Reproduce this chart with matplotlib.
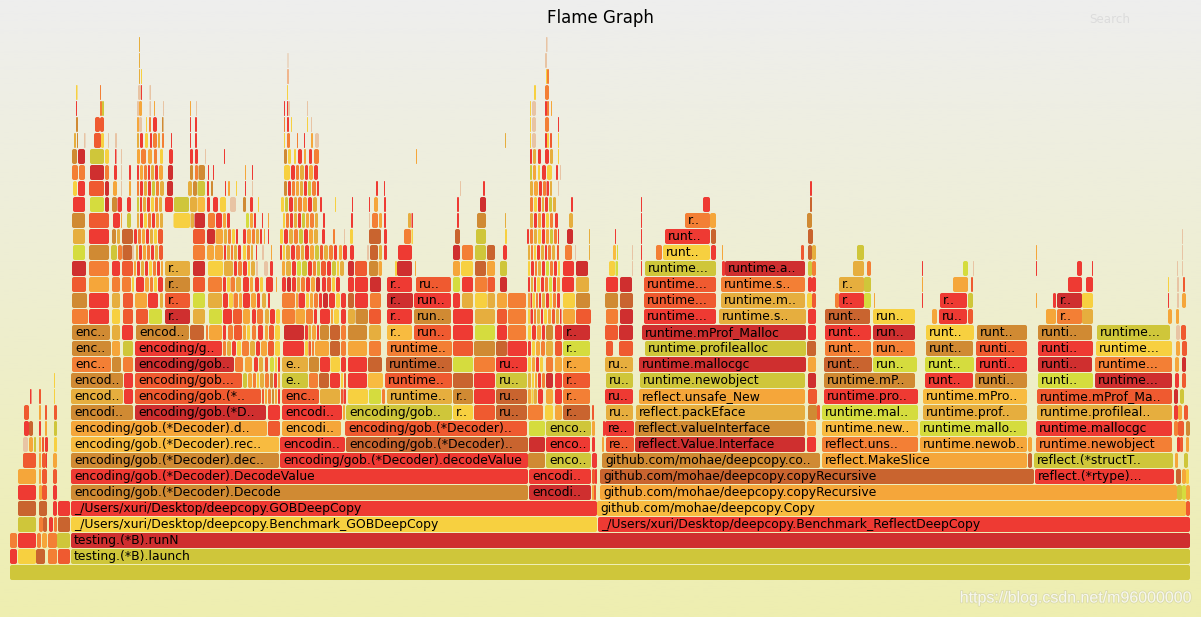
import matplotlib
matplotlib.use("Agg")
import matplotlib.pyplot as plt
import matplotlib.patheffects as pe
from matplotlib.patches import FancyBboxPatch
import numpy as np

palette = {'r': '#ee3a33', 'd': '#cf2f2f', 't': '#ef5a30', 'o': '#f37f35', 'a': '#f5a63a',
           'y': '#f7d040', 'l': '#d5dc3e', 'g': '#cfc63a', 'm': '#d08a33', 'b': '#c9642f',
           'k': '#e6ae3e', 'h': '#f8bb40', 'p': '#e8c4a4'}

# (row, first sample, last sample, colour key, name)
stack_frames = [
    (0, 10, 1190, 'g', ""), (1, 71, 1190, 'g', "testing.(*B).launch"), (2, 71, 1190, 'd', "testing.(*B).runN"),
    (3, 71, 597, 'y', "_/Users/xuri/Desktop/deepcopy.Benchmark_GOBDeepCopy"),
    (3, 598, 1190, 'r', "_/Users/xuri/Desktop/deepcopy.Benchmark_ReflectDeepCopy"),
    (4, 71, 597, 'r', "_/Users/xuri/Desktop/deepcopy.GOBDeepCopy"),
    (4, 597, 1186, 'h', "github.com/mohae/deepcopy.Copy"),
    (5, 600, 1177, 'a', "github.com/mohae/deepcopy.copyRecursive"),
    (6, 600, 1034, 'b', "github.com/mohae/deepcopy.copyRecursive"),
    (6, 1035, 1174, 'r', "reflect.(*rtype)..."),
    (7, 602, 820, 'm', "github.com/mohae/deepcopy.co.."), (7, 822, 1027, 'a', "reflect.MakeSlice"),
    (7, 1034, 1173, 'g', "reflect.(*structT.."),
]
gob_frames = [
    (5, 71, 528, 'm', "encoding/gob.(*Decoder).Decode"), (5, 529, 591, 'd', "encodi.."),
    (6, 71, 528, 'r', "encoding/gob.(*Decoder).DecodeValue"), (6, 529, 591, 'r', "encodi.."),
    (7, 71, 279, 'm', "encoding/gob.(*Decoder).dec.."), (7, 280, 528, 'r', "encoding/gob.(*Decoder).decodeValue"),
    (7, 546, 591, 'g', "enco.."),
    (8, 71, 279, 'h', "encoding/gob.(*Decoder).rec.."), (8, 280, 345, 'r', "encodin.."),
    (8, 346, 528, 'b', "encoding/gob.(*Decoder).."), (8, 546, 590, 'r', "enco.."),
    (9, 71, 267, 'a', "encoding/gob.(*Decoder).d.."), (9, 282, 341, 'a', "encodi.."),
    (9, 345, 527, 't', "encoding/gob.(*Decoder).."), (9, 546, 591, 'g', "enco.."),
    (10, 71, 133, 'm', "encodi.."), (10, 135, 266, 'd', "encoding/gob.(*D.."), (10, 282, 342, 'r', "encodi.."),
    (10, 346, 452, 'g', "encoding/gob.."), (10, 453, 473, 'y', "r.."), (10, 496, 527, 'b', "ru.."), (10, 563, 590, 'b', "r.."),
    (11, 71, 123, 'k', "encod.."), (11, 135, 261, 't', "encoding/gob.(*.."), (11, 282, 319, 't', "enc.."),
    (11, 453, 473, 'm', "r.."), (11, 496, 527, 'b', "ru.."), (11, 563, 590, 'o', "r.."),
    (12, 71, 123, 'm', "encod.."), (12, 135, 242, 't', "encoding/gob..."), (12, 282, 308, 'g', "e.."),
    (12, 496, 527, 'g', "ru.."), (12, 563, 590, 't', "r.."),
    (13, 72, 111, 'o', "enc.."), (13, 135, 234, 'd', "encoding/gob.."), (13, 282, 308, 'k', "e.."),
    (13, 496, 527, 'r', "ru.."), (13, 563, 590, 'a', "r.."),
    (14, 72, 111, 'm', "enc.."), (14, 135, 222, 'r', "encoding/g.."), (14, 563, 590, 'l', "r.."),
    (15, 72, 110, 'm', "enc.."), (15, 136, 189, 'm', "encod.."), (15, 387, 412, 'h', "r.."), (15, 563, 590, 'd', "r.."),
    (16, 165, 190, 'd', "r.."), (16, 387, 412, 'r', "r.."), (17, 165, 190, 't', "r.."), (17, 387, 413, 'd', "r.."),
    (18, 165, 190, 'm', "r.."), (18, 387, 412, 'r', "r.."), (19, 165, 190, 'k', "r.."),
    (11, 387, 452, 'k', "runtime.."), (12, 385, 452, 't', "runtime.."), (13, 386, 452, 'b', "runtime.."),
    (14, 387, 452, 'o', "runtime.."), (15, 414, 451, 't', "run.."), (16, 414, 451, 'm', "run.."),
    (17, 414, 451, 'r', "run.."), (18, 416, 451, 't', "ru.."),
]
reflect_frames = [
    (8, 606, 634, 't', "re.."), (8, 635, 805, 'd', "reflect.Value.Interface"),
    (8, 822, 918, 'o', "reflect.uns.."), (8, 920, 1027, 'a', "runtime.newob.."), (8, 1036, 1172, 'o', "runtime.newobject"),
    (9, 605, 634, 'r', "re.."), (9, 635, 805, 'm', "reflect.valueInterface"),
    (9, 822, 918, 'h', "runtime.new.."), (9, 920, 1027, 'l', "runtime.mallo.."), (9, 1036, 1172, 'r', "runtime.mallocgc"),
    (10, 606, 633, 'k', "ru.."), (10, 636, 805, 'k', "reflect.packEface"),
    (10, 822, 918, 'l', "runtime.mal.."), (10, 923, 1027, 'k', "runtime.prof.."), (10, 1037, 1172, 'k', "runtime.profileal.."),
    (11, 605, 633, 'r', "ru.."), (11, 639, 805, 'a', "reflect.unsafe_New"),
    (11, 824, 918, 'r', "runtime.pro.."), (11, 923, 1027, 'h', "runtime.mPro.."), (11, 1037, 1172, 't', "runtime.mProf_Ma.."),
    (12, 606, 633, 'g', "ru.."), (12, 640, 805, 'g', "runtime.newobject"),
    (12, 824, 915, 'm', "runtime.mP.."), (12, 925, 973, 'r', "runt.."), (12, 975, 1027, 'm', "runti.."),
    (12, 1038, 1093, 'l', "runti.."), (12, 1095, 1172, 'd', "runtime..."),
    (13, 605, 633, 'k', "ru.."), (13, 639, 806, 'd', "runtime.mallocgc"),
    (13, 824, 872, 'b', "runt.."), (13, 873, 917, 'l', "run.."), (13, 925, 974, 'l', "runt.."), (13, 976, 1027, 'r', "runti.."),
    (13, 1038, 1092, 'd', "runti.."), (13, 1095, 1172, 'o', "runtime..."),
    (14, 645, 806, 'g', "runtime.profilealloc"),
    (14, 825, 871, 'o', "runt.."), (14, 873, 915, 'o', "run.."), (14, 926, 973, 'm', "runt.."), (14, 976, 1027, 't', "runti.."),
    (14, 1038, 1093, 'r', "runti.."), (14, 1096, 1172, 'y', "runtime..."),
    (15, 642, 806, 'd', "runtime.mProf_Malloc"),
    (15, 825, 871, 'r', "runt.."), (15, 873, 915, 'd', "run.."), (15, 926, 974, 'y', "runt.."), (15, 977, 1027, 'm', "runt.."),
    (15, 1038, 1092, 'm', "runti.."), (15, 1097, 1170, 'g', "runtime..."),
    (16, 644, 716, 'r', "runtime..."), (16, 719, 806, 'k', "runtime.s.."),
    (16, 825, 870, 'b', "runt.."), (16, 873, 915, 'y', "run.."), (16, 939, 967, 'r', "ru.."), (16, 1057, 1082, 'o', "r.."),
    (17, 644, 716, 't', "runtime..."), (17, 721, 805, 'k', "runtime.m.."), (17, 839, 864, 'r', "r.."),
    (17, 940, 967, 'r', "r.."), (17, 1057, 1082, 'd', "r.."),
    (18, 644, 716, 't', "runtime..."), (18, 721, 805, 'o', "runtime.s.."), (18, 839, 864, 'k', "r.."),
    (19, 645, 716, 'g', "runtime..."), (19, 725, 805, 'd', "runtime.a.."),
    (20, 663, 710, 'y', "runt.."), (21, 665, 710, 'r', "runt.."), (22, 685, 710, 'o', "r.."),
]

# frames too narrow for a name, per row: (first sample, last sample, colour key)
row_01 = [(10,17,'r'),(18,36,'y'),(36,45,'b'),(48,57,'o'),(58,70,'t')]
row_02 = [(10,17,'o'),(18,36,'r'),(37,41,'o'),(42,47,'a'),(48,57,'o'),(57,70,'g')]
row_03 = [(18,36,'g'),(39,43,'o'),(43,47,'b'),(49,53,'r'),(54,57,'o'),(58,70,'b')]
row_04 = [(18,36,'b'),(39,47,'b'),(53,57,'r'),(58,70,'r'),(1186,1190,'t')]
row_05 = [(18,36,'r'),(39,42,'a'),(42,47,'t'),(53,57,'r'),(592,594,'a'),(594,596,'t'),(1177,1182,'g'),(1182,1186,'l'),(1186,1190,'a')]
row_06 = [(18,36,'a'),(39,41,'a'),(42,47,'t'),(53,57,'t'),(592,595,'t'),(595,597,'r'),(1176,1181,'b'),(1182,1186,'a'),(1186,1189,'y')]
row_07 = [(23,36,'t'),(39,41,'a'),(42,46,'t'),(46,47,'r'),(53,57,'a'),(528,545,'m'),(592,597,'r'),(1028,1032,'b'),(1175,1178,'a'),(1184,1188,'g')]
row_08 = [(23,28,'p'),(29,33,'a'),(34,36,'g'),(39,41,'a'),(42,44,'t'),(45,48,'r'),(54,57,'y'),(529,545,'d'),(592,595,'r'),(602,604,'a'),(807,816,'r'),(1028,1032,'a'),(1177,1180,'r'),(1180,1183,'t'),(1186,1189,'a')]
row_09 = [(24,29,'r'),(29,33,'b'),(39,41,'r'),(45,47,'a'),(54,57,'g'),(268,280,'t'),(529,545,'l'),(592,595,'a'),(603,605,'r'),(807,816,'a'),(1174,1178,'o'),(1178,1184,'t'),(1186,1190,'m')]
row_10 = [(24,29,'t'),(39,41,'a'),(45,47,'t'),(54,57,'t'),(268,280,'r'),(343,345,'a'),(474,495,'t'),(528,543,'o'),(545,553,'y'),(555,562,'a'),(592,594,'t'),(808,817,'m'),(817,820,'t'),(1174,1178,'r'),(1178,1182,'a'),(1184,1188,'t')]
row_11 = [(30,31.5,'r'),(39,41,'t'),(54,55,'y'),(124,133,'r'),(262,264,'t'),(265,267,'a'),(268,271,'o'),(272,274,'m'),(275,277,'a'),(278,280,'r'),(320,340,'k'),(341,343,'t'),(343.5,346,'r'),(348,368,'y'),(369,381,'l'),(382,385,'o'),(474,495,'r'),(528,531,'a'),(531.5,533,'y'),(533.5,537,'k'),(538,543,'r'),(546,553,'a'),(555,562,'r'),(808,817,'t'),(1174,1178,'d'),(1180,1184,'g')]
row_12 = [(54,55,'y'),(124,133,'r'),(243,247,'g'),(248,252,'a'),(253,256,'o'),(257,259,'y'),(260,264,'k'),(265,269,'o'),(270,273,'m'),(274,277,'r'),(278,280,'a'),(309,318,'o'),(319,329,'b'),(330,340,'r'),(341,343,'y'),(344,346,'t'),(348,367,'r'),(368,383,'h'),(453,473,'b'),(474,495,'r'),(528,531,'k'),(532,534,'y'),(535,537,'a'),(538,541,'r'),(542,545,'o'),(546,553,'d'),(555,562,'r'),(808,816,'d'),(1175,1179,'r'),(1182,1186,'t')]
row_13 = [(112,121,'m'),(123,133,'o'),(235,243,'o'),(245,252,'a'),(254,258,'r'),(259,263,'k'),(265,268,'t'),(270,274,'l'),(275,277,'y'),(278,280,'r'),(309,319,'m'),(320,330,'r'),(330.5,340,'y'),(341,346,'r'),(348,367,'r'),(368,382,'b'),(453,473,'l'),(474,495,'o'),(528,531,'y'),(532,535,'a'),(536,539,'r'),(540,543,'y'),(546,553,'o'),(555,562,'a'),(808,816,'a'),(1175,1179,'a'),(1182,1186,'d')]
row_14 = [(112,120,'a'),(123,133,'g'),(223,226,'o'),(227,231,'k'),(232,236,'r'),(237,241,'y'),(242,249,'o'),(250,255,'k'),(256,260,'r'),(261,267,'a'),(268,274,'t'),(275,280,'y'),(283,304,'r'),(305,308,'y'),(308.5,311,'t'),(312,314,'o'),(315,329,'a'),(330,340,'b'),(341,346,'o'),(348,367,'a'),(369,381,'o'),(453,473,'t'),(474,495,'m'),(496,507,'b'),(507.5,527,'r'),(528,531,'r'),(532,535,'y'),(536,540,'a'),(541,545,'o'),(546,553,'k'),(555,562,'t'),(606,613,'t'),(619,633,'t'),(807,816,'b'),(1176,1180,'a'),(1182,1187,'t')]
row_15 = [(112,120,'k'),(122,133,'r'),(190,204,'b'),(206,208,'o'),(209,222,'a'),(223,226,'r'),(228,233,'o'),(234,242,'t'),(243,246,'a'),(247,250,'y'),(252,256,'o'),(258,263,'r'),(265,268,'a'),(269,274,'t'),(275,280,'y'),(284,304,'d'),(305,308,'r'),(308.5,311,'k'),(312,316,'a'),(317,319,'r'),(320,329,'m'),(330,340,'b'),(341,346,'o'),(348,367,'m'),(369,381,'k'),(453,473,'r'),(475,495,'l'),(497,507,'r'),(508,526,'o'),(528,531,'y'),(532,536,'r'),(537,541,'a'),(542,545,'r'),(546,553,'m'),(555,562,'r'),(605,618,'t'),(619,633,'d'),(808,816,'r'),(1176,1180,'p'),(1181,1186,'t')]
row_16 = [(72,88,'o'),(89,109,'r'),(112,120,'y'),(123,133,'t'),(136,148,'t'),(149,162,'l'),(193,205,'k'),(209,222,'l'),(223,232,'r'),(233,242,'t'),(243,250,'a'),(252,256,'r'),(257,263,'o'),(265,269,'k'),(270,275,'r'),(276,280,'y'),(282,295,'o'),(295.5,305,'a'),(306,313,'o'),(314,317,'r'),(320,330,'r'),(331,333,'a'),(334,339,'y'),(341,346,'r'),(348,355,'k'),(355.5,368,'m'),(369,381,'t'),(453,473,'r'),(475,495,'k'),(497,507,'t'),(508,526,'o'),(528,530,'y'),(530.5,533,'r'),(534,536,'o'),(537,540,'k'),(541,543,'r'),(544,547,'y'),(548,551,'a'),(552,555,'t'),(556,559,'k'),(560,561.5,'r'),(563,575,'a'),(576,591,'t'),(606,618,'o'),(620,633,'d'),(808,816,'r'),(932,937,'a'),(968,973,'t'),(1046,1056,'a'),(1082,1093,'k'),(1168,1172,'a'),(1176,1179,'a')]
row_17 = [(72,87,'m'),(89,109,'r'),(112,120,'k'),(123,133,'t'),(135,147,'a'),(148,158,'r'),(160,163,'k'),(193,205,'l'),(208,222,'k'),(223,228,'r'),(229,233,'y'),(233.5,238,'o'),(239,242,'a'),(243,250,'r'),(251,256,'a'),(257,260,'r'),(262,266,'k'),(268,270,'r'),(282,295,'o'),(296,298,'a'),(298.5,305,'r'),(306,309,'y'),(310,313,'a'),(314,318,'o'),(319,322,'r'),(323,328,'d'),(329,335,'r'),(336,340,'y'),(341,346,'r'),(348,354,'b'),(355,368,'r'),(370,381,'o'),(453,460,'r'),(462,473,'k'),(475,487,'y'),(487.5,495,'k'),(497,507,'a'),(508,526,'o'),(528,530,'a'),(530.5,532,'r'),(532.5,535,'y'),(536,538,'o'),(539,541,'r'),(542,545,'k'),(546,549,'r'),(549.5,552,'y'),(553,556,'o'),(557,560,'r'),(563,575,'y'),(576,590,'m'),(605,618,'m'),(620,633,'b'),(807,812,'y'),(812,816,'t'),(835,839,'o'),(864,871,'l'),(874,875,'a'),(922,923,'r'),(968,973,'g'),(1036,1037,'a'),(1053,1056,'r'),(1082,1093,'y'),(1168,1169,'r'),(1177,1179,'p'),(1182,1186,'a')]
row_18 = [(72,86,'t'),(89,109,'a'),(112,120,'o'),(122,131,'o'),(132,134,'y'),(136,144,'r'),(145,149,'a'),(150,153,'o'),(154,157,'y'),(158,163,'r'),(193,205,'t'),(208,222,'o'),(223,226,'r'),(227,230,'y'),(230.5,235,'o'),(236,241,'k'),(243,249,'r'),(250,253,'a'),(255,259,'r'),(260,263,'y'),(266,273,'r'),(276,277,'a'),(282,286,'r'),(287,291,'d'),(292,296,'r'),(297,300,'k'),(301,305,'o'),(306,310,'r'),(311,315,'a'),(316,320,'d'),(322,326,'r'),(327,331,'t'),(332,335,'y'),(336,340,'r'),(348,354,'r'),(355,368,'r'),(370,381,'d'),(453,460,'l'),(462,473,'r'),(475,487,'o'),(487.5,495,'t'),(500,507,'d'),(528,530,'r'),(531,533,'k'),(534,536,'r'),(537,540,'y'),(541,544,'r'),(545,548,'o'),(549,552,'l'),(553,556,'r'),(557,560,'a'),(562,574,'r'),(576,589,'k'),(606,618,'r'),(620,632,'d'),(808,812,'r'),(812,816,'r'),(864,871,'g'),(922,923,'a'),(953,968,'a'),(971,973,'t'),(1068,1082,'r'),(1086,1093,'r'),(1168,1169,'y'),(1177,1179,'p'),(1183,1185,'t')]
row_19 = [(72,86,'d'),(89,109,'o'),(112,120,'r'),(122,133,'t'),(134,136,'a'),(137,140,'r'),(141,144,'k'),(145,148,'r'),(149,152,'y'),(153,156,'o'),(157,160,'r'),(161,163,'a'),(193,205,'d'),(208,223,'y'),(224,233,'k'),(234,237,'r'),(238,242,'o'),(243,247,'r'),(248,250,'y'),(251,255,'k'),(256,258,'p'),(264,268,'p'),(270,273,'r'),(282,285,'a'),(286,291,'k'),(292,296,'r'),(297,301,'l'),(302,307,'g'),(308,312,'r'),(313,316,'o'),(317,320,'g'),(321,326,'t'),(327,331,'r'),(332,336,'g'),(337,339,'y'),(340,344,'k'),(348,354,'d'),(355,367,'t'),(369,378,'m'),(378.5,382,'a'),(395,397,'y'),(397,412,'d'),(415,416,'a'),(453,460,'a'),(461,473,'y'),(475,486,'b'),(487,495,'a'),(500,507,'g'),(528,530,'y'),(531,534,'r'),(535,537,'o'),(538,541,'k'),(542,545,'r'),(546,549,'l'),(550,553,'o'),(554,557,'r'),(558,560,'y'),(563,574,'r'),(576,588,'d'),(609,615,'y'),(615.5,618,'l'),(632,633,'p'),(641,642,'r'),(722,725,'r'),(808,812,'g'),(812,816,'o'),(853,864,'k'),(867,871,'o'),(922,923,'r'),(963,968,'l'),(973,974,'p'),(1036,1037,'r'),(1077,1082,'r'),(1092,1093,'r'),(1177,1178,'p'),(1182,1183,'p')]
row_20 = [(73,85,'l'),(89,109,'m'),(111,117,'g'),(118,122,'o'),(122.5,132,'b'),(132,134,'p'),(136,138,'k'),(139,142,'r'),(143,146,'a'),(147,150,'o'),(151,154,'r'),(155,158,'k'),(159,163,'t'),(193,205,'o'),(207,214,'a'),(215,223,'a'),(224,226,'r'),(227,230,'k'),(231,233,'o'),(234,237,'k'),(238,241,'r'),(243,246,'y'),(247,250,'o'),(251,253,'k'),(256,257,'r'),(262,264,'p'),(271,272,'a'),(280,282,'r'),(283,285,'y'),(286,290,'k'),(291,295,'r'),(296,300,'o'),(301,304,'k'),(305,309,'r'),(310,314,'a'),(315,319,'g'),(320,323,'t'),(324,328,'k'),(329,333,'o'),(334,337,'r'),(339,342,'a'),(343,347,'r'),(350,354,'r'),(367,369,'p'),(370,378,'b'),(379,382,'k'),(384,387,'r'),(398,412,'r'),(453,460,'d'),(462,473,'o'),(475,486,'g'),(487,495,'b'),(503,507,'r'),(528,530,'k'),(531,533,'o'),(534,536,'y'),(537,540,'r'),(541,544,'k'),(545,547,'r'),(548,551,'o'),(552,555,'k'),(557,559,'t'),(565,572,'o'),(575,576,'p'),(589,590,'k'),(613,616,'h'),(617,618,'l'),(632,633,'p'),(641,642,'r'),(656,662,'o'),(711,716,'r'),(722,723,'a'),(801,804,'t'),(808,812,'b'),(812,816,'k'),(857,864,'g'),(1036,1037,'a'),(1182,1183,'p')]
row_21 = [(73,85,'k'),(89,109,'r'),(112,116,'m'),(117,120,'k'),(122,133,'b'),(134,137,'r'),(138,141,'o'),(142,145,'a'),(146,149,'r'),(150,153,'k'),(154,157,'y'),(158,163,'t'),(193,205,'t'),(207,215,'d'),(215.5,223,'a'),(224,227,'k'),(228,231,'o'),(232,235,'y'),(236,238,'r'),(243,246,'r'),(247,251,'a'),(252,255,'o'),(256,259,'k'),(260,262,'r'),(264,265,'a'),(268,269,'r'),(280,283,'y'),(284,288,'r'),(289,293,'k'),(294,298,'o'),(299,303,'g'),(304,308,'r'),(309,313,'a'),(314,318,'k'),(322,325,'r'),(333,335,'o'),(344,345,'p'),(350,353,'y'),(369,381,'b'),(384,387,'r'),(404,411,'o'),(411.5,413,'y'),(455,460,'b'),(476,486,'g'),(505,507,'y'),(527,529,'r'),(530,533,'o'),(534,537,'k'),(538,541,'y'),(542,545,'r'),(546,549,'a'),(550,553,'g'),(554,557,'o'),(558,559,'r'),(567,573,'d'),(589,590,'k'),(615,616,'r'),(641,642,'r'),(711,716,'b'),(808,813,'b'),(1182,1183,'p')]
row_22 = [(72,85,'m'),(89,109,'t'),(113,120,'r'),(121,122,'a'),(127,131,'g'),(137,139,'k'),(140,143,'r'),(144,147,'y'),(148,151,'o'),(152,155,'r'),(156,159,'a'),(160,163,'k'),(173.5,190,'y'),(190.5,194,'k'),(194.5,205,'d'),(208,215,'o'),(216,222,'r'),(223,226,'a'),(227,230,'r'),(246,249,'l'),(250,253,'a'),(254,256,'r'),(262,263,'r'),(268,269,'a'),(283,285,'y'),(286,289,'o'),(290,293,'r'),(294,297,'k'),(298,301,'r'),(302,305,'g'),(306,309,'a'),(310,314,'o'),(315,318,'k'),(323,325,'r'),(351,353,'r'),(369,370,'p'),(372,378,'o'),(379,382,'a'),(384,386,'r'),(408,411,'k'),(411.5,413,'r'),(457,459,'r'),(477,486,'m'),(505,506,'k'),(530,533,'k'),(534,537,'r'),(538,541,'a'),(542,545,'r'),(546,549,'y'),(550,553,'o'),(555,558,'r'),(569,573,'k'),(641,642,'r'),(710,716,'a'),(807,812,'m')]
row_23 = [(73,85,'r'),(90,104,'l'),(105,109,'d'),(112,117,'m'),(117.5,122,'r'),(127,131,'r'),(137,139,'g'),(140,142,'r'),(143,146,'k'),(147,150,'r'),(151,154,'y'),(155,158,'o'),(159,162,'k'),(165,173,'r'),(174,189,'g'),(190,197,'k'),(197.5,205,'h'),(207,210,'r'),(213,218,'r'),(220,226,'y'),(230,236,'p'),(243,246,'m'),(250,253,'r'),(258,259,'y'),(281,284,'y'),(285,288,'g'),(289,293,'r'),(294,297,'k'),(298,302,'o'),(303,307,'a'),(308,312,'r'),(313,317,'k'),(320,322,'r'),(335,336,'y'),(352,353,'r'),(369,370,'r'),(374,378,'a'),(384,386,'r'),(457,459,'r'),(480,486,'d'),(530,533,'o'),(534,537,'y'),(538,541,'r'),(542,544,'k'),(545,548,'r'),(549,552,'g'),(553,556,'k'),(571,573,'r'),(641,642,'r'),(703,710,'r'),(810,812,'b')]
row_24 = [(73,77,'y'),(78,85,'r'),(89,104,'t'),(105,109,'d'),(113,117,'a'),(121,122,'p'),(129,131,'a'),(137,139,'o'),(140,143,'r'),(144,147,'k'),(148,151,'r'),(152,155,'g'),(156,159,'o'),(160,164,'k'),(167,173,'d'),(188,192,'k'),(193,197,'m'),(197.5,205,'g'),(207,209,'r'),(211,213,'m'),(225,226,'r'),(228,230,'a'),(236,237,'y'),(245,246,'r'),(252,253,'p'),(284,287,'m'),(288,291,'r'),(292,295,'o'),(296,299,'a'),(300,303,'k'),(304,307,'r'),(308,311,'g'),(312,316,'o'),(317,319,'r'),(376,378,'r'),(384,385,'r'),(460,461,'p'),(483,485,'r'),(530,533,'k'),(534,538,'a'),(539,542,'r'),(543,546,'o'),(546.5,549,'r'),(550,552,'k'),(558,559,'p'),(810,812,'r')]
row_25 = [(72,78,'o'),(79,85,'o'),(90,104,'d'),(105,109,'o'),(114,117,'r'),(121,122,'p'),(129,131,'r'),(137,139,'r'),(140,143,'a'),(144,147,'o'),(148,150,'r'),(151,154,'k'),(155,158,'r'),(159,163,'a'),(168,173,'d'),(190,193,'m'),(195,198,'o'),(198.5,205,'m'),(208,209,'r'),(213,214,'r'),(245,246,'a'),(252,253,'r'),(284,290,'y'),(291,295,'r'),(296,299,'o'),(300,304,'k'),(305,308,'r'),(309,313,'a'),(314,318,'r'),(530,532,'g'),(533,536,'a'),(538,540,'y'),(542,546,'r'),(547,552,'y'),(556,558,'r'),(560,561,'p')]
row_26 = [(72,77,'m'),(78,85,'d'),(90,104,'g'),(105,109,'y'),(115,116.5,'r'),(121,122,'p'),(137,140,'a'),(141,146,'o'),(148,152,'a'),(154,157,'o'),(160,163,'y'),(169,173,'r'),(190,193,'r'),(195,198,'r'),(205,206,'p'),(224,225,'r'),(284,287,'m'),(288,291,'y'),(294,296,'y'),(298,302,'r'),(304,306,'a'),(309,312,'r'),(314,319,'o'),(416,417,'a'),(530,532,'r'),(533,536,'k'),(538,541,'r'),(545,549,'r'),(550,553,'k'),(558,559,'y')]
row_27 = [(74,76,'k'),(77,78,'m'),(84,85.5,'p'),(94,101,'t'),(101,104,'y'),(108,109,'p'),(115,117,'p'),(137,139,'k'),(140,143,'r'),(145,148,'y'),(150,152,'r'),(153,157,'o'),(158,160,'k'),(162,164,'o'),(171,172,'r'),(190,191,'r'),(195,197,'r'),(284,285,'y'),(287,290,'o'),(297,298,'o'),(304,305,'r'),(311,313,'a'),(315,319,'p'),(505,506,'k'),(530,531,'y'),(532,536,'p'),(545,547,'r'),(547,549,'y'),(550,552,'t'),(558,559,'y')]
row_28 = [(76,78,'m'),(95,100,'t'),(100,104,'t'),(137,139,'a'),(139,142,'p'),(146,147,'y'),(149,151,'o'),(153,157,'r'),(162,163.5,'m'),(190,191,'r'),(195,197,'r'),(284,285,'o'),(287,289,'r'),(291,292,'y'),(307,308,'y'),(311,312,'p'),(530,531,'y'),(532,536,'p'),(545,549,'o'),(558,559,'r')]
row_29 = [(76,77,'r'),(100,102,'o'),(102,104,'g'),(137,139,'p'),(139,142,'a'),(149.5,151,'p'),(154,155,'a'),(163,164,'p'),(190,191,'a'),(196,197,'p'),(284,285,'r'),(287,288,'r'),(288,290,'p'),(307,308,'p'),(530,531,'y'),(532,536,'p'),(545,547,'r'),(547,549,'o'),(551,552,'a')]
row_30 = [(76,77.5,'y'),(100,101,'o'),(138,141,'p'),(141,142,'r'),(149.5,151,'p'),(287,288,'y'),(534,536,'y'),(545,549,'o')]
row_31 = [(139,140,'k'),(141,142,'y'),(287.5,288.5,'o'),(546,547,'y'),(547,549,'o')]
row_32 = [(139,140,'k'),(287.5,288.5,'p'),(545,547,'p')]
row_33 = [(139,140,'k'),(546,547.5,'p')]
unnamed_rows = [row_01, row_02, row_03, row_04, row_05, row_06, row_07, row_08, row_09, row_10, row_11,
                row_12, row_13, row_14, row_15, row_16, row_17, row_18, row_19, row_20, row_21, row_22,
                row_23, row_24, row_25, row_26, row_27, row_28, row_29, row_30, row_31, row_32, row_33]

chart_title = "Flame Graph"
search_label = "Search"
watermark = "https://blog.csdn.net/m96000000"
gradient_top = (0xee, 0xee, 0xee)
gradient_bottom = (0xee, 0xee, 0xb0)

ROW_STEP = 16


def row_top(row):
    return 565 - ROW_STEP * row


def draw_frame(ax, row, start, end, colour):
    width = end - start
    patch = FancyBboxPatch((start, row_top(row)), width, 15,
                           boxstyle="round,pad=0,rounding_size=%.2f" % min(2.0, width / 2),
                           fc=palette[colour], ec='none', lw=0)
    ax.add_patch(patch)


fig = plt.figure(figsize=(12.01, 6.17), dpi=100)
ax = fig.add_axes([0, 0, 1, 1])
ax.set_xlim(0, 1201)
ax.set_ylim(617, 0)
ax.axis('off')

shade = np.linspace(0, 1, 256)[:, None, None]
bg = (np.array(gradient_top) * (1 - shade) + np.array(gradient_bottom) * shade) / 255
ax.imshow(bg, extent=(0, 1201, 617, 0), aspect='auto', zorder=0)

for i, frames in enumerate(unnamed_rows):
    for start, end, colour in frames:
        draw_frame(ax, i + 1, start, end, colour)

for frames in (stack_frames, gob_frames, reflect_frames):
    for row, start, end, colour, name in frames:
        draw_frame(ax, row, start, end, colour)
        if name:
            ax.text(start + 3, row_top(row) + 7.5, name, fontsize=8.9, color='black',
                    ha='left', va='center')

ax.text(600, 18, chart_title, fontsize=12, color='black', ha='center', va='center')
ax.text(1110, 19.5, search_label, fontsize=8.6, color='#dcdcdc', ha='center', va='center')
ax.text(1192, 598, watermark, fontsize=11.5, family='Liberation Sans', color='white', alpha=0.75,
        ha='right', va='center',
        path_effects=[pe.withStroke(linewidth=1.2, foreground='#b9b9a0', alpha=0.35)])

fig.savefig('out.png', dpi=100)
